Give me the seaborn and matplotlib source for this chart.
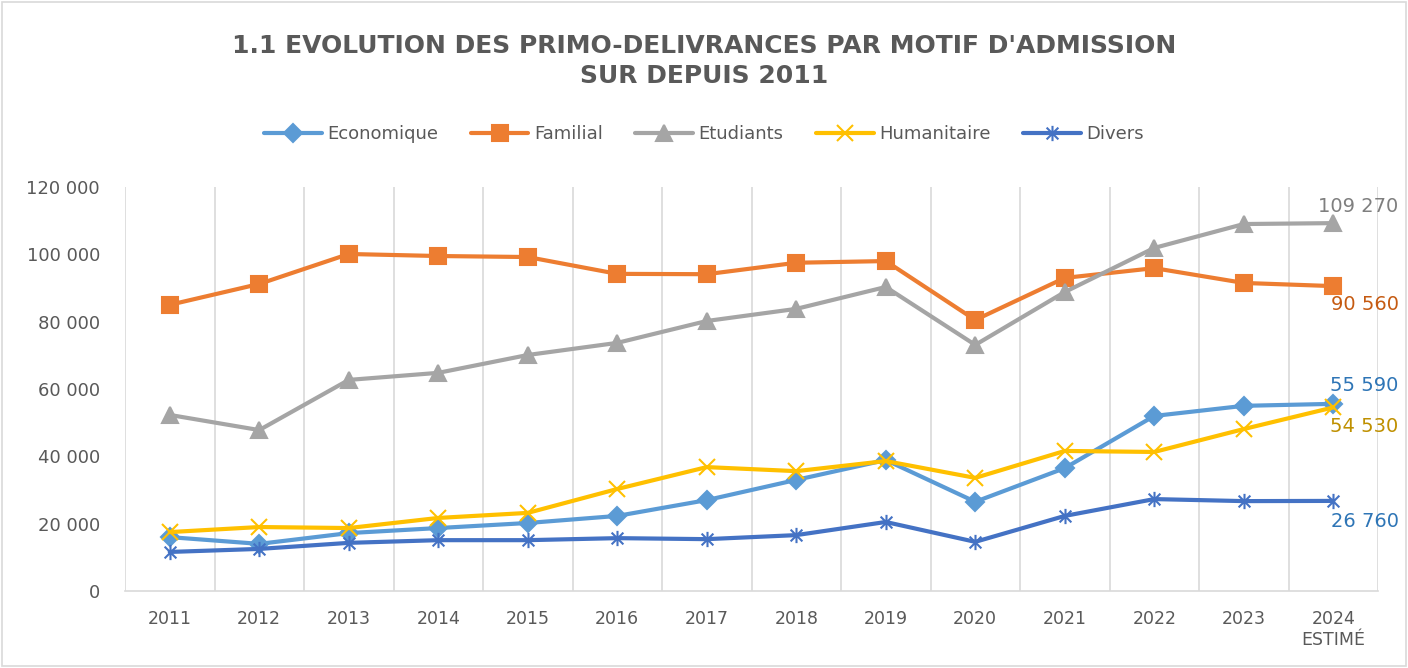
import numpy as np
import pandas as pd
import matplotlib
matplotlib.use("Agg")
import matplotlib.pyplot as plt
import seaborn as sns
from matplotlib.path import Path
from matplotlib.lines import Line2D
from matplotlib.patches import Rectangle

years = ["2011", "2012", "2013", "2014", "2015", "2016", "2017",
         "2018", "2019", "2020", "2021", "2022", "2023", "2024\nESTIMÉ"]

economique = [16000, 14000, 17200, 18700, 20200, 22300, 27000,
              33000, 38900, 26500, 36500, 52000, 55000, 55590]
familial = [85000, 91200, 100100, 99500, 99200, 94200, 94100,
            97500, 98000, 80500, 93000, 95900, 91500, 90560]
etudiants = [52300, 47800, 62700, 64800, 70100, 73700, 80200,
             83800, 90300, 73100, 88800, 101900, 109000, 109270]
humanitaire = [17500, 19000, 18700, 21700, 23200, 30300, 36800,
               35600, 38600, 33600, 41600, 41300, 48100, 54530]
divers = [11600, 12500, 14300, 15100, 15100, 15700, 15400,
          16600, 20500, 14600, 22300, 27300, 26700, 26760]

# star marker like excel (x + vertical bar)
star = Path([(-1, -1), (1, 1), (-1, 1), (1, -1), (0, -1.3), (0, 1.3)],
            [Path.MOVETO, Path.LINETO, Path.MOVETO, Path.LINETO, Path.MOVETO, Path.LINETO])

series = [
    ("Economique", economique, "#5b9bd5", "D", 9, "#2e75b6"),
    ("Familial", familial, "#ed7d31", "s", 12, "#c55a11"),
    ("Etudiants", etudiants, "#a5a5a5", "^", 12, "#7f7f7f"),
    ("Humanitaire", humanitaire, "#ffc000", "x", 12, "#bf9000"),
    ("Divers", divers, "#4472c4", star, 11, "#2e75b6"),
]
# vertical offset (points) of the end value labels
lab_dy = [13, -13, 12, -14, -15]

sns.set_style("white")
plt.rcParams['font.family'] = ['DejaVu Sans']

fig = plt.figure(figsize=(14.08, 6.68), dpi=100)
ax = fig.add_axes([125 / 1408, 77 / 668, 1253 / 1408, 404 / 668])

x = np.arange(len(years))
handles = []
for name, vals, col, mk, ms, lblcol in series:
    sns.lineplot(ax=ax, x=x, y=vals, color=col, lw=3, marker=mk, markersize=ms,
                 markeredgecolor=col, markerfacecolor=col, markeredgewidth=1.5)
    handles.append(Line2D([0], [0], color=col, lw=3, marker=mk, markersize=ms,
                          markeredgecolor=col, markerfacecolor=col, markeredgewidth=1.5))

# end value labels
last = len(years) - 1
for (name, vals, col, mk, ms, lblcol), dy in zip(series, lab_dy):
    v = vals[-1]
    ax.annotate(f"{v:,}".replace(",", " "), (last, v), xytext=(47, dy),
                textcoords="offset points", ha="right", va="center",
                fontsize=14, color=lblcol, annotation_clip=False)

ax.set_xlim(-0.5, last + 0.5)
ax.set_ylim(0, 120000)
ax.set_yticks(np.arange(0, 120001, 20000))
ax.set_yticklabels([f"{v:,}".replace(",", " ") for v in range(0, 120001, 20000)])
ax.set_xticks(x)
ax.set_xticklabels(years)
for b in np.arange(-0.5, last + 1, 1):
    ax.axvline(b, color="#d9d9d9", lw=1.2, zorder=0)
ax.tick_params(axis="x", colors="#595959", labelsize=12.5, length=0, pad=14)
ax.tick_params(axis="y", colors="#595959", labelsize=13, length=0, pad=18)
for s in ["top", "right", "left"]:
    ax.spines[s].set_visible(False)
ax.spines["bottom"].set_color("#d9d9d9")
ax.spines["bottom"].set_linewidth(1.2)
ax.set_xlabel("")
ax.set_ylabel("")

fig.text(0.5, 1 - 61 / 668, "1.1 EVOLUTION DES PRIMO-DELIVRANCES PAR MOTIF D'ADMISSION\nSUR DEPUIS 2011",
         ha="center", va="center", fontsize=18, fontweight="bold", color="#595959",
         linespacing=1.35)

fig.legend(handles, [s[0] for s in series], loc="center", bbox_to_anchor=(0.5, 1 - 134 / 668),
           ncol=5, frameon=False, fontsize=13, handlelength=3.2, columnspacing=1.8,
           handletextpad=0.3, labelcolor="#595959")

fig.patches.append(Rectangle((2 / 1408, 2 / 668), 1404 / 1408, 664 / 668, transform=fig.transFigure,
                             fill=False, edgecolor="#d9d9d9", lw=1.2))

fig.savefig("out.png", dpi=100)
